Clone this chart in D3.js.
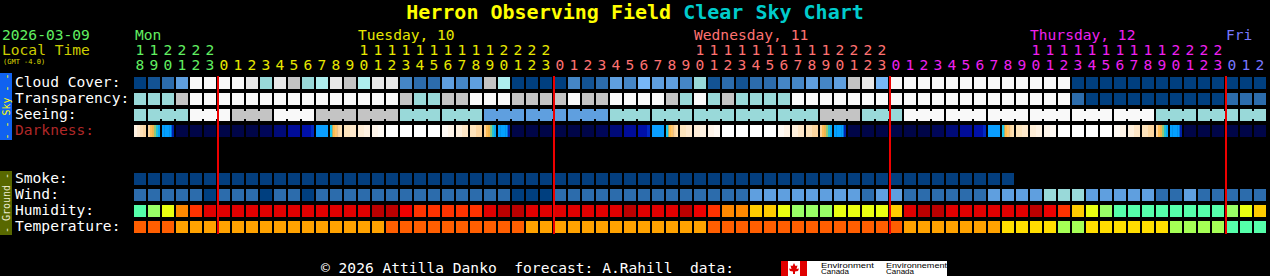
<!DOCTYPE html>
<html>
<head>
<meta charset="utf-8">
<script src="https://cdn.jsdelivr.net/npm/d3@7"></script>
<style>
  body { margin: 0; background: #000; }
  svg { display: block; font-family: "DejaVu Sans Mono", monospace; }
</style>
</head>
<body>
<div id="chart"></div>
<script>
// ---- data ----
const startHour = 18, nCols = 81;
const dateLabel = "2026-03-09";
const dayLabels = ["Mon", "Tuesday, 10", "Wednesday, 11", "Thursday, 12", "Fri"];
const dayColors = ["#62f062", "#e8e800", "#ff7272", "#f020f0", "#7878ff"];

const skyRows = ["Cloud Cover:", "Transparency:", "Seeing:", "Darkness:"];
const groundRows = ["Smoke:", "Wind:", "Humidity:", "Temperature:"];

// cloud cover in tenths (0 = clear, 10 = overcast)
const cloud = [0,1,2,4,10,10,10,10,9,6,9,8,6,7,9,8,7,9,9,3,2,
  2,4,3,4,8,7,0,0,0,0,3,1,2,4,3,5,4,4,3,6,
  1,2,1,2,2,3,3,4,3,4,8,9,5,
  10,10,10,10,10,10,10,10,10,10,10,10,10,
  0,0,0,0,0,0,0,0,0,0,0,0,0,0];
// transparency: 0 excellent .. 4 poor, 5 too cloudy
const transparency = [3,3,3,4,5,5,5,5,5,5,5,5,5,5,5,5,5,5,5,4,3,
  3,4,4,5,5,5,4,4,4,4,5,4,4,5,5,5,5,4,3,5,
  3,4,3,3,3,3,5,5,5,5,5,5,5,
  5,5,5,5,5,5,5,5,5,5,5,5,5,
  1,0,0,0,0,0,0,0,0,0,0,1,1,1];
// seeing: 0 too cloudy, 1 bad, 2 poor, 3 average
const seeing = [2,2,2,2,0,0,0,1,1,1,0,0,0,1,1,1,1,1,1,2,2,2,2,2,2,
  3,3,3,3,3,3,3,3,3,
  2,2,2,2,2,2,2,2,2,2,2,2,2,2,2,
  1,1,1,2,2,2,
  0,0,0,0,0,0,0,0,0,0,0,0,0,0,0,0,0,0,
  2,2,2,2,2,2,2,2];
// darkness: colour stripes inside each hour
const NIGHT = "#000548";
const TWI_EVE = "#fdd49a #ffbd55 #f0b54e #90c878 #24c2d2 #0aaaf5";
const BLUE_EVE = "#04a0ff #04a0ff #04a0ff #04a0ff #0022aa";
const PRE_DAWN = "#0010a8 #0010a8 #0010a8 #0028c4";
const BLUE_MORN = "#0a9eff";
const TWI_MORN = "#14c8f0 #ffbb4c #ffc66c #fdd49c #fde0b2";
const darkness = [
  "#fff3e4 #feead0 #fde0b8 #fcd8a6", TWI_EVE, BLUE_EVE,
  NIGHT, NIGHT, NIGHT, NIGHT, NIGHT, NIGHT, "#000658", "#000a78", "#000c98", PRE_DAWN,
  BLUE_MORN, TWI_MORN, "#fde4bc #fee9cc", "#feedd6 #fff2e2", "#fff5ea #fffaf4",
  "#ffffff", "#ffffff", "#ffffff", "#ffffff",
  "#fffaf4 #fff4e6", "#fff0dc #fee6c6", "#fde2ba #fcd6a0", TWI_EVE, BLUE_EVE,
  NIGHT, NIGHT, NIGHT, NIGHT, NIGHT, NIGHT, "#000658", "#000a78", "#000c98", PRE_DAWN,
  BLUE_MORN, TWI_MORN, "#fde4bc #fee9cc", "#feedd6 #fff2e2", "#fff5ea #fffaf4",
  "#ffffff", "#ffffff", "#ffffff", "#ffffff",
  "#fffaf4 #fff4e6", "#fff0dc #fee6c6", "#fde2ba #fcd6a0", TWI_EVE, BLUE_EVE,
  NIGHT, NIGHT, NIGHT, NIGHT, NIGHT, NIGHT, "#000658", "#000a78", "#000c98", PRE_DAWN,
  BLUE_MORN, TWI_MORN, "#fde4bc #fee9cc", "#feedd6 #fff2e2", "#fff5ea #fffaf4",
  "#ffffff", "#ffffff", "#ffffff", "#ffffff",
  "#fffaf4 #fff4e6", "#fff0dc #fee6c6", "#fde2ba #fcd6a0", TWI_EVE, BLUE_EVE,
  NIGHT, NIGHT, NIGHT, NIGHT, NIGHT, NIGHT
];
// smoke forecast only runs 63 hours, all "no smoke"
const smoke = [0,0,0,0,0,0,0,0,0,0,0,0,0,0,0,0,0,0,0,0,0,0,0,0,0,0,0,0,0,0,0,0,
  0,0,0,0,0,0,0,0,0,0,0,0,0,0,0,0,0,0,0,0,0,0,0,0,0,0,0,0,0,0,0];
// wind class: 0 calm .. 3 windy
const wind = [1,1,1,1,1,0,1,1,1,0,1,1,0,1,1,1,1,1,1,1,1,1,1,1,1,1,1,0,0,0,
  1,1,1,1,1,1,1,1,1,1,1,1,1,1,2,2,2,2,2,2,2,2,1,2,2,1,1,1,1,1,1,
  2,2,2,2,3,3,3,2,2,2,2,2,1,1,2,1,1,1,1,1];
// humidity class: 0 dry .. 8 saturated
const humidity = [0,1,2,4,5,7,7,7,7,7,7,7,7,7,7,7,7,8,8,6,5,5,5,5,5,7,8,8,
  7,7,7,7,7,7,7,8,7,7,7,8,6,5,4,4,3,3,2,1,1,1,2,2,2,2,3,7,8,8,
  7,7,7,7,7,7,8,6,5,3,2,1,0,0,0,0,0,0,0,0,1,2,3];
// temperature class: 0 coolest .. 4 warmest
const temperature = [4,4,4,3,3,3,3,3,3,3,3,3,3,3,3,3,3,3,4,4,4,4,4,4,4,4,4,4,
  3,3,3,3,3,3,3,3,3,3,3,3,3,4,4,4,4,4,4,4,4,4,4,4,4,4,4,
  3,3,3,3,3,3,3,2,2,2,2,1,1,2,2,2,2,2,2,1,1,1,1,0,0,0];

// ---- palettes ----
const cloudPalette = ["#003f7f","#135393","#2c6cac","#4586c6","#5f9fdf","#77b7f7",
  "#99d9d9","#aeeeee","#c4c4c4","#e8e8e8","#f9f9f9"];
const transPalette = ["#003f7f","#2c6cac","#5f9fdf","#99d9d9","#c4c4c4","#f9f9f9"];
const seeingPalette = ["#f9f9f9","#c4c4c4","#99d9d9","#5f9fdf"];
const windPalette = ["#003f7f","#2c6cac","#5f9fdf","#99d9d9"];
const humidPalette = ["#55ffaa","#99ff66","#eaff11","#ffcc00","#ff8800","#ff3300",
  "#ee0000","#e00000","#bb0000"];
const tempPalette = ["#55ffaa","#a5ff55","#ffdd00","#ffa200","#ff5e00"];

const W = 1270, H = 276;
const svg = d3.select("#chart").append("svg")
  .attr("width", W).attr("height", H);
svg.append("rect").attr("width", W).attr("height", H).attr("fill", "#000");

const x = d3.scaleBand().domain(d3.range(nCols))
  .range([134, 1266]).paddingInner(2 / 14);
const bw = x.bandwidth();
const ySky = d3.scaleBand().domain(skyRows).range([77, 137]).paddingInner(0.25);
const yGround = d3.scaleBand().domain(groundRows).range([173, 233]).paddingInner(0.25);
const rh = ySky.bandwidth();

const hourOf = i => (startHour + i) % 24;
const dayOf = i => Math.floor((startHour + i) / 24);

// title
const title = svg.append("text")
  .attr("x", 635).attr("y", 18.5)
  .attr("text-anchor", "middle")
  .attr("font-size", 20).attr("font-weight", "bold");
title.append("tspan").attr("fill", "#ffff00").text("Herron Observing Field ");
title.append("tspan").attr("fill", "#00cccc").text("Clear Sky Chart");

// header left
svg.append("text").attr("x", 2).attr("y", 40).attr("font-size", 14.6)
  .attr("fill", dayColors[0]).text(dateLabel);
svg.append("text").attr("x", 2).attr("y", 55).attr("font-size", 14.6)
  .attr("fill", "#cccc00").text("Local Time");
svg.append("text").attr("x", 3).attr("y", 64).attr("font-size", 7)
  .attr("fill", "#dddd00").text("(GMT -4.0)");

// day names: sit over the first two-digit hour of each day
const dayStart = dayLabels.map((d, k) => {
  const cs = d3.range(nCols).filter(i => dayOf(i) === k);
  const two = cs.find(i => hourOf(i) >= 10);
  return two !== undefined ? two : cs[0];
});
svg.append("g").selectAll("text").data(dayLabels).join("text")
  .attr("x", (d, k) => x(dayStart[k]) + (k === 0 ? 1 : 0))
  .attr("y", 40).attr("font-size", 14.6)
  .attr("fill", (d, k) => dayColors[k])
  .text(d => d);

// hour digits
const cols = d3.range(nCols);
svg.append("g").selectAll("text").data(cols.filter(i => hourOf(i) >= 10)).join("text")
  .attr("x", i => x(i) + bw / 2).attr("y", 55)
  .attr("text-anchor", "middle").attr("font-size", 14.6)
  .attr("fill", i => dayColors[dayOf(i)])
  .text(i => Math.floor(hourOf(i) / 10));
svg.append("g").selectAll("text").data(cols).join("text")
  .attr("x", i => x(i) + bw / 2).attr("y", 70)
  .attr("text-anchor", "middle").attr("font-size", 14.6)
  .attr("fill", i => dayColors[dayOf(i)])
  .text(i => hourOf(i) % 10);

// side bars
svg.append("rect").attr("x", 0).attr("y", 73).attr("width", 12).attr("height", 67)
  .attr("fill", "#1062f0");
svg.append("text").attr("transform", "translate(9.5,106.5) rotate(-90)")
  .attr("text-anchor", "middle").attr("font-size", 10).attr("fill", "#ffff00")
  .style("white-space", "pre").text("- - Sky - -");
svg.append("rect").attr("x", 0).attr("y", 171).attr("width", 12).attr("height", 64)
  .attr("fill", "#586800");
svg.append("text").attr("transform", "translate(9.5,203) rotate(-90)")
  .attr("text-anchor", "middle").attr("font-size", 10).attr("fill", "#ecebd0")
  .style("white-space", "pre").text("- Ground -");

// row labels
svg.append("g").selectAll("text").data(skyRows).join("text")
  .attr("x", 15).attr("y", d => ySky(d) + 10).attr("font-size", 14.6)
  .attr("fill", d => d === "Darkness:" ? "#b02828" : "#ffffff")
  .text(d => d);
svg.append("g").selectAll("text").data(groundRows).join("text")
  .attr("x", 15).attr("y", d => yGround(d) + 10).attr("font-size", 14.6)
  .attr("fill", "#ffffff")
  .text(d => d);

// generic cell row
function cellRow(values, y0, palette) {
  const color = d3.scaleOrdinal().domain(d3.range(palette.length)).range(palette);
  svg.append("g").attr("shape-rendering", "crispEdges")
    .selectAll("rect").data(values).join("rect")
    .attr("x", (d, i) => x(i)).attr("y", y0)
    .attr("width", bw).attr("height", rh)
    .attr("fill", d => color(d));
}
cellRow(cloud, ySky("Cloud Cover:"), cloudPalette);
cellRow(transparency, ySky("Transparency:"), transPalette);
cellRow(seeing, ySky("Seeing:"), seeingPalette);

// seeing is forecast in 3-hour blocks: bridge the gaps inside a block
const seeColor = d3.scaleOrdinal().domain(d3.range(seeingPalette.length)).range(seeingPalette);
const bridges = cols.filter(i => i > 0 && hourOf(i) % 3 !== 1 && seeing[i] === seeing[i - 1]);
svg.append("g").attr("shape-rendering", "crispEdges")
  .selectAll("rect").data(bridges).join("rect")
  .attr("x", i => x(i) - 2).attr("y", ySky("Seeing:") + 2)
  .attr("width", 2).attr("height", rh - 4)
  .attr("fill", i => seeColor(seeing[i]));

// darkness stripes
const dy = ySky("Darkness:");
const stripes = [];
darkness.forEach((s, i) => {
  const parts = s.split(" ");
  parts.forEach((c, k) => stripes.push({ i, k, n: parts.length, c }));
});
svg.append("g").selectAll("rect").data(stripes).join("rect")
  .attr("x", d => x(d.i) + d.k * bw / d.n)
  .attr("y", dy)
  .attr("width", d => bw / d.n + (d.k < d.n - 1 ? 0.4 : 0))
  .attr("height", rh)
  .attr("fill", d => d.c);

cellRow(smoke, yGround("Smoke:"), ["#033e7e"]);
cellRow(wind, yGround("Wind:"), windPalette);
cellRow(humidity, yGround("Humidity:"), humidPalette);
cellRow(temperature, yGround("Temperature:"), tempPalette);

// midnight lines
svg.append("g").attr("shape-rendering", "crispEdges")
  .selectAll("rect").data(cols.filter(i => hourOf(i) === 0)).join("rect")
  .attr("x", i => x(i) - 1).attr("y", ySky.range()[0] - 1)
  .attr("width", 2).attr("height", yGround.range()[1] - ySky.range()[0] + 2)
  .attr("fill", "#ee0000");

// footer
svg.append("text").attr("x", 321).attr("y", 272.5).attr("font-size", 14.6)
  .attr("fill", "#ffffff").style("white-space", "pre")
  .text("\u00a9 2026 Attilla Danko  forecast: A.Rahill  data:");

const logo = svg.append("g").attr("transform", "translate(781,261)");
logo.append("rect").attr("width", 166).attr("height", 15).attr("fill", "#ffffff");
logo.append("rect").attr("width", 7).attr("height", 15).attr("fill", "#e00000");
logo.append("rect").attr("x", 19).attr("width", 7).attr("height", 15).attr("fill", "#e00000");
logo.append("path")
  .attr("d", "M13,2 L14.5,5 L16.5,4.5 L15.5,8 L18,7.5 L17,10 L14,10.5 L14,13 L12,13 L12,10.5 L9,10 L8,7.5 L10.5,8 L9.5,4.5 L11.5,5 Z")
  .attr("fill", "#e00000");
[["Environment", 40, 53], ["Environnement", 105, 61]].forEach(([t, lx, len]) => {
  logo.append("text").attr("x", lx).attr("y", 6.5)
    .attr("font-family", "Liberation Sans, Arial, sans-serif")
    .attr("font-size", 7.2).attr("fill", "#000")
    .attr("textLength", len).attr("lengthAdjust", "spacingAndGlyphs").text(t);
  logo.append("text").attr("x", lx).attr("y", 13.2)
    .attr("font-family", "Liberation Sans, Arial, sans-serif")
    .attr("font-size", 7.2).attr("fill", "#000")
    .attr("textLength", 28).attr("lengthAdjust", "spacingAndGlyphs").text("Canada");
});
</script>
</body>
</html>
